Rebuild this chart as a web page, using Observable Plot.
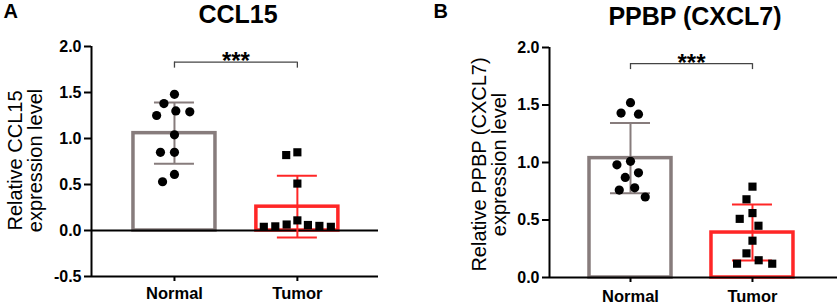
<!DOCTYPE html>
<html>
<head>
<meta charset="utf-8">
<script src="https://cdn.jsdelivr.net/npm/d3@7"></script>
<script src="https://cdn.jsdelivr.net/npm/@observablehq/plot@0.6"></script>
<style>
  html, body { margin: 0; padding: 0; background: #fff; }
  #wrap { display: flex; width: 837px; height: 308px; }
  #wrap svg { display: block; }
</style>
</head>
<body>
<div id="wrap"></div>
<script>
// ---- data ----
const groups = ["Normal", "Tumor"];
const ccl15Normal = [1.48, 1.38, 1.30, 1.29, 1.25, 1.04, 0.85, 0.85, 0.61, 0.53];
const ccl15Tumor = [0.85, 0.82, 0.51, 0.11, 0.065, 0.06, 0.05, 0.045, 0.04, 0.04];
const ppbpNormal = [1.52, 1.43, 1.42, 1.01, 0.98, 0.91, 0.87, 0.78, 0.76, 0.70];
const ppbpTumor = [0.79, 0.68, 0.56, 0.51, 0.45, 0.32, 0.21, 0.15, 0.12, 0.12];
const yTicksA = [-0.5, 0, 0.5, 1.0, 1.5, 2.0];
const yTicksB = [0, 0.5, 1.0, 1.5, 2.0];
const titleA = "CCL15";
const titleB = "PPBP (CXCL7)";
const yLabelA = "Relative CCL15\nexpression level";
const yLabelB = "Relative PPBP (CXCL7)\nexpression level";
const significance = "***";

const FONT = "'Liberation Sans', Arial, Helvetica, sans-serif";
const groupColors = ["#877c7c", "#ff2626"];

// simple beeswarm (dodge) in pixel space, returned in x-data units
function swarm(values, ky, kx, D) {
  const order = d3.range(values.length).sort((a, b) => values[b] - values[a]);
  const placed = [];
  const off = new Array(values.length).fill(0);
  for (const i of order) {
    const y = values[i] * ky;
    const cands = [0];
    for (const p of placed) {
      const dy = Math.abs(p.y - y);
      if (dy < D) {
        const dx = Math.sqrt(D * D - dy * dy);
        cands.push(p.x + dx, p.x - dx);
      }
    }
    cands.sort((a, b) => Math.abs(a) - Math.abs(b) || a - b);
    for (const c of cands) {
      if (placed.every(p => (p.x - c) ** 2 + (p.y - y) ** 2 >= D * D - 1e-6)) {
        placed.push({x: c, y});
        off[i] = c / kx;
        break;
      }
    }
  }
  return off;
}

function panel(cfg) {
  const {width, height, mt, mb, ml, mr, xDomain, yDomain, yTicks, series, gaps,
         title, titleDx, titleDy, letter, letterDx, letterDy,
         yLabel, yLabelDx, yLabelDy, bracketY, tickPad} = cfg;
  const ky = (height - mt - mb) / (yDomain[1] - yDomain[0]);
  const kx = (width - ml - mr) / (xDomain[1] - xDomain[0]);
  const barHalf = 41 / kx;
  const capHalf = 20 / kx;
  const stats = series.map((vals, i) => ({i, mean: d3.mean(vals), sd: d3.deviation(vals), color: groupColors[i]}));
  const pts = series.map((vals, i) => {
    const off = swarm(vals, ky, kx, gaps[i]);
    return vals.map((v, j) => ({i, value: v, x: i + off[j]}));
  });
  const brTick = 6 / ky;
  return Plot.plot({
    width, height,
    marginTop: mt, marginBottom: mb, marginLeft: ml, marginRight: mr,
    x: {type: "linear", domain: xDomain},
    y: {domain: yDomain},
    color: {type: "identity"},
    style: {fontFamily: FONT, color: "black", background: "white"},
    marks: [
      Plot.rectY(stats, {x1: d => d.i - barHalf, x2: d => d.i + barHalf, y1: 0, y2: "mean",
        fill: "white", stroke: "color", strokeWidth: 3.5}),
      yDomain[0] < 0 ? Plot.ruleY([0], {stroke: "black", strokeWidth: 2}) : null,
      Plot.ruleX(stats, {x: "i", y1: d => d.mean - d.sd, y2: d => d.mean + d.sd, stroke: "color", strokeWidth: 2}),
      Plot.ruleY(stats, {y: d => d.mean + d.sd, x1: d => d.i - capHalf, x2: d => d.i + capHalf, stroke: "color", strokeWidth: 2}),
      Plot.ruleY(stats, {y: d => d.mean - d.sd, x1: d => d.i - capHalf, x2: d => d.i + capHalf, stroke: "color", strokeWidth: 2}),
      Plot.dot(pts[0], {x: "x", y: "value", r: 4.6, symbol: "circle", fill: "black"}),
      Plot.dot(pts[1], {x: "x", y: "value", r: 4.6, symbol: "square", fill: "black"}),
      // axes
      Plot.ruleY([yDomain[0]], {stroke: "black", strokeWidth: 2}),
      Plot.ruleX([xDomain[0]], {stroke: "black", strokeWidth: 2}),
      Plot.axisY(yTicks, {tickSize: 7, tickPadding: 3, tickFormat: d => d.toFixed(1),
        fontSize: 16, fontWeight: "bold", strokeWidth: 2, label: null}),
      Plot.axisX([0, 1], {tickSize: 5, tickPadding: tickPad, tickFormat: i => groups[i],
        fontSize: 16.5, fontWeight: "bold", strokeWidth: 2, label: null}),
      // significance bracket
      Plot.ruleY([bracketY], {x1: 0, x2: 1, stroke: "#444", strokeWidth: 1.3}),
      Plot.ruleX([0, 1], {x: d => d, y1: bracketY - brTick, y2: bracketY, stroke: "#444", strokeWidth: 1.3}),
      Plot.text([significance], {x: 0.5, y: bracketY, text: d => d, fontSize: 24, fontWeight: "bold",
        lineAnchor: "top", dy: -10}),
      // title, panel letter, y label
      Plot.text([title], {frameAnchor: "top", text: d => d, fontSize: 25, fontWeight: "bold",
        lineAnchor: "top", dx: titleDx, dy: titleDy}),
      Plot.text([letter], {frameAnchor: "top-left", text: d => d, fontSize: 20, fontWeight: "bold",
        textAnchor: "start", lineAnchor: "top", dx: letterDx, dy: letterDy}),
      Plot.text([yLabel], {frameAnchor: "left", text: d => d, fontSize: 20, rotate: -90,
        textAnchor: "middle", lineAnchor: "middle", lineHeight: 1.0, dx: yLabelDx, dy: yLabelDy})
    ]
  });
}

const wrap = document.getElementById("wrap");
wrap.appendChild(panel({
  width: 420, height: 308, mt: 46, mb: 32, ml: 91, mr: 42,
  xDomain: [-0.675, 1.66], yDomain: [-0.5, 2.0], yTicks: yTicksA,
  series: [ccl15Normal, ccl15Tumor], gaps: [14, 11.5],
  title: titleA, titleDx: 3, titleDy: -41,
  letter: "A", letterDx: -88, letterDy: -43,
  yLabel: yLabelA, yLabelDx: -66, yLabelDy: -1, bracketY: 1.83, tickPad: 6
}));
wrap.appendChild(panel({
  width: 417, height: 308, mt: 47, mb: 31, ml: 129, mr: 0,
  xDomain: [-0.664, 1.697], yDomain: [0, 2.0], yTicks: yTicksB,
  series: [ppbpNormal, ppbpTumor], gaps: [14, 14],
  title: titleB, titleDx: 1.5, titleDy: -40,
  letter: "B", letterDx: -116, letterDy: -44,
  yLabel: yLabelB, yLabelDx: -60, yLabelDy: 2, bracketY: 1.86, tickPad: 8
}));
</script>
</body>
</html>
